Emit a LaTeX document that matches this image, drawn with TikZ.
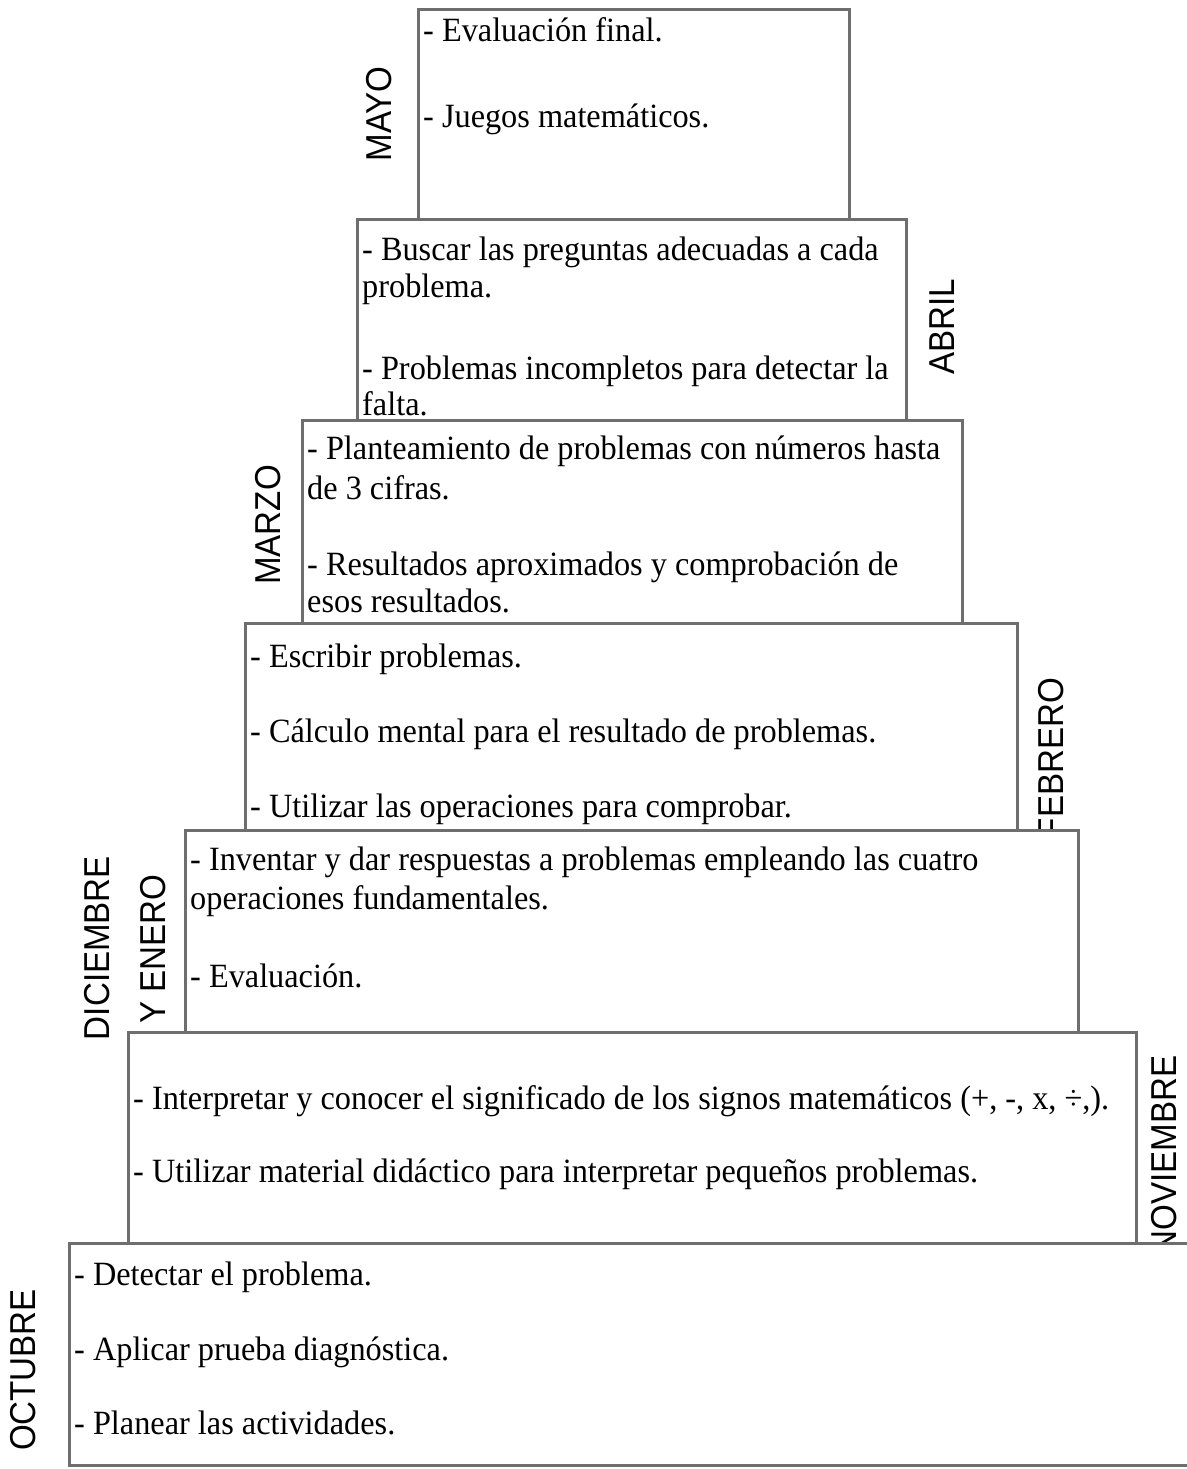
\documentclass[tikz,border=0pt]{standalone}
\usepackage{fontspec}
\newfontfamily\bodyfont[FakeStretch=0.95]{Liberation Serif}
\newfontfamily\labfont[FakeStretch=0.92]{Liberation Sans}
\definecolor{border}{RGB}{110,110,110}
\tikzset{
  box/.style={draw=border, line width=3pt, fill=white},
  txt/.style={anchor=base west, inner sep=0pt, font=\bodyfont\fontsize{34}{38}\selectfont},
  mon/.style={rotate=90, inner sep=0pt, font=\labfont\fontsize{36}{38}\selectfont}
}
\begin{document}
\begin{tikzpicture}[x=1pt,y=-1pt]
\useasboundingbox (0,0) rectangle (1186,1469);
\fill[white] (0,0) rectangle (1186,1469);
% month labels (drawn first, boxes cover their overflow)
\node[mon] (lmayo) at (379,114) {MAYO};
\node[mon] (labril) at (942,327) {ABRIL};
\node[mon] (lmarzo) at (268,525) {MARZO};
\node[mon] (lfeb) at (1051,758) {FEBRERO};
\node[mon] (ldic) at (97,948) {DICIEMBRE};
\node[mon] (lene) at (153,949) {Y ENERO};
\node[mon] (lnov) at (1164,1155) {NOVIEMBRE};
\node[mon] (loct) at (23,1370) {OCTUBRE};
% boxes
\draw[box] (418,10) rectangle (849,219);
\draw[box] (357,219) rectangle (906,420);
\draw[box] (302,420) rectangle (962,623);
\draw[box] (245,623) rectangle (1017,830);
\draw[box] (185,830) rectangle (1078,1032);
\draw[box] (128,1032) rectangle (1136,1243);
\draw[box] (69,1243) rectangle (1210,1465);
% MAYO
\node[txt] (m1) at (423,42) {- Evaluación final.};
\node[txt] (m2) at (423,128) {- Juegos matemáticos.};
% ABRIL
\node[txt] (a1) at (362,260) {- Buscar las preguntas adecuadas a cada};
\node[txt] (a2) at (362,297) {problema.};
\node[txt] (a3) at (362,379) {- Problemas incompletos para detectar la};
\node[txt] (a4) at (362,415) {falta.};
% MARZO
\node[txt] (r1) at (307,459) {- Planteamiento de problemas con números hasta};
\node[txt] (r2) at (307,499) {de 3 cifras.};
\node[txt] (r3) at (307,575) {- Resultados aproximados y comprobación de};
\node[txt] (r4) at (307,612) {esos resultados.};
% FEBRERO
\node[txt] (f1) at (250,667) {- Escribir problemas.};
\node[txt] (f2) at (250,742) {- Cálculo mental para el resultado de problemas.};
\node[txt] (f3) at (250,817) {- Utilizar las operaciones para comprobar.};
% DICIEMBRE Y ENERO
\node[txt] (d1) at (190,870) {- Inventar y dar respuestas a problemas empleando las cuatro};
\node[txt] (d2) at (190,909) {operaciones fundamentales.};
\node[txt] (d3) at (190,987) {- Evaluación.};
% NOVIEMBRE
\node[txt] (n1) at (133,1109) {- Interpretar y conocer el significado de los signos matemáticos (+, -, x, ÷,).};
\node[txt] (n2) at (133,1182) {- Utilizar material didáctico para interpretar pequeños problemas.};
% OCTUBRE
\node[txt] (o1) at (74,1285) {- Detectar el problema.};
\node[txt] (o2) at (74,1360) {- Aplicar prueba diagnóstica.};
\node[txt] (o3) at (74,1434) {- Planear las actividades.};
\end{tikzpicture}
\end{document}
